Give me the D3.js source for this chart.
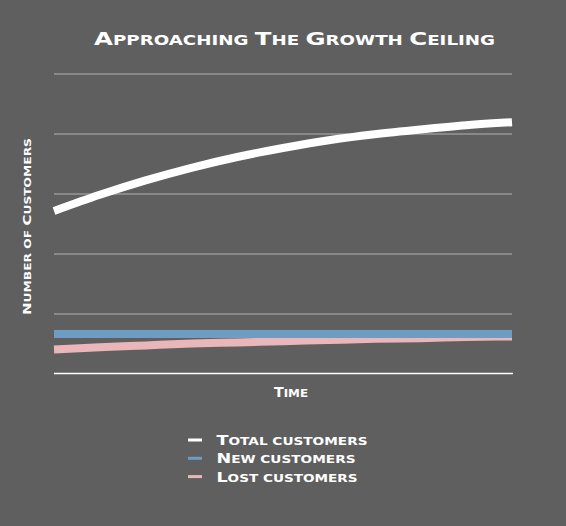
<!DOCTYPE html>
<html>
<head>
<meta charset="utf-8">
<script src="https://cdn.jsdelivr.net/npm/d3@7"></script>
<style>
  html, body { margin: 0; padding: 0; background: #5f5f5f; }
  svg { display: block; }
  text { font-family: "DejaVu Sans", sans-serif; font-weight: bold; fill: #ffffff; }
</style>
</head>
<body>
<div id="chart"></div>
<script>
// time steps and series
const timeSteps = [0, 1, 2, 3, 4, 5, 6, 7, 8, 9, 10];
const totalCustomers = [2.70, 2.97, 3.21, 3.42, 3.60, 3.75, 3.88, 3.98, 4.06, 4.13, 4.18];
const newCustomers = [0.65, 0.65, 0.65, 0.65, 0.65, 0.65, 0.65, 0.65, 0.65, 0.65, 0.65];
const lostCustomers = [0.39, 0.43, 0.46, 0.49, 0.51, 0.53, 0.55, 0.57, 0.58, 0.60, 0.61];
const gridValues = [1, 2, 3, 4, 5];
const seriesNames = ["Total customers", "New customers", "Lost customers"];
const seriesColors = ["#ffffff", "#6f9cc3", "#e9b7b9"];

const W = 566, H = 526;
const margin = { top: 73, right: 54, bottom: 153, left: 54 };

const svg = d3.select("#chart").append("svg")
  .attr("width", W)
  .attr("height", H);

svg.append("rect").attr("width", W).attr("height", H).attr("fill", "#5f5f5f");

const x = d3.scaleLinear()
  .domain(d3.extent(timeSteps))
  .range([margin.left, W - margin.right]);
const y = d3.scaleLinear()
  .domain([0, 5])
  .range([H - margin.bottom, margin.top]);

// small caps done by hand: capitals stay big, everything else goes small
function smallCaps(sel, str, big, small) {
  let run = "", runBig = null;
  const flush = () => {
    if (run) sel.append("tspan").style("font-size", (runBig ? big : small) + "px").text(run.toUpperCase());
    run = "";
  };
  for (const ch of str) {
    const isBig = ch !== " " && ch === ch.toUpperCase();
    if (runBig !== null && isBig !== runBig) flush();
    runBig = isBig;
    run += ch;
  }
  flush();
  return sel;
}

// grid
const grid = svg.append("g")
  .attr("transform", `translate(${margin.left},0.5)`)
  .call(d3.axisLeft(y).tickValues(gridValues).tickSize(-(W - margin.left - margin.right)).tickFormat(""));
grid.select(".domain").remove();
grid.selectAll(".tick line").attr("stroke", "#b3b3b3").attr("stroke-width", 1);

// bottom axis line
const xAxis = svg.append("g")
  .attr("transform", `translate(0,${y(0) + 0.5})`)
  .call(d3.axisBottom(x).tickValues([]).tickSizeOuter(0));
xAxis.select(".domain").attr("stroke", "#ffffff").attr("stroke-width", 1.5)
  .attr("d", `M${margin.left},0H${W - margin.right + 1}`);

const line = d3.line()
  .x((d, i) => x(timeSteps[i]))
  .y(d => y(d))
  .curve(d3.curveMonotoneX);

const series = [totalCustomers, lostCustomers, newCustomers];
const colorsInOrder = [seriesColors[0], seriesColors[2], seriesColors[1]];

svg.append("g")
  .selectAll("path")
  .data(series)
  .join("path")
  .attr("d", line)
  .attr("fill", "none")
  .attr("stroke", (d, i) => colorsInOrder[i])
  .attr("stroke-width", 8)
  .attr("stroke-linecap", "butt");

// title
smallCaps(svg.append("text")
  .attr("x", 94).attr("y", 44.5)
  .attr("textLength", 401).attr("lengthAdjust", "spacingAndGlyphs"),
  "Approaching The Growth Ceiling", 18.5, 13.8);

// axis titles
smallCaps(svg.append("text")
  .attr("x", 274).attr("y", 397)
  .attr("textLength", 34).attr("lengthAdjust", "spacingAndGlyphs"),
  "Time", 13.5, 11.3);

smallCaps(svg.append("text")
  .attr("transform", "translate(30.5,315) rotate(-90)")
  .attr("x", 0).attr("y", 0)
  .attr("textLength", 177).attr("lengthAdjust", "spacingAndGlyphs"),
  "Number of Customers", 11, 9);

// legend
const legend = svg.append("g").attr("transform", "translate(188,440)");
const rows = legend.selectAll("g")
  .data(seriesNames)
  .join("g")
  .attr("transform", (d, i) => `translate(0,${i * 18.3})`);
rows.append("line")
  .attr("x1", 0).attr("x2", 14)
  .attr("y1", 0).attr("y2", 0)
  .attr("stroke", (d, i) => seriesColors[i])
  .attr("stroke-width", 3);
const legendWidths = [151, 139, 141];
rows.each(function (d, i) {
  smallCaps(d3.select(this).append("text")
    .attr("x", 28.5).attr("y", 5)
    .attr("textLength", legendWidths[i]).attr("lengthAdjust", "spacingAndGlyphs"),
    d, 13.5, 10.5);
});
</script>
</body>
</html>
